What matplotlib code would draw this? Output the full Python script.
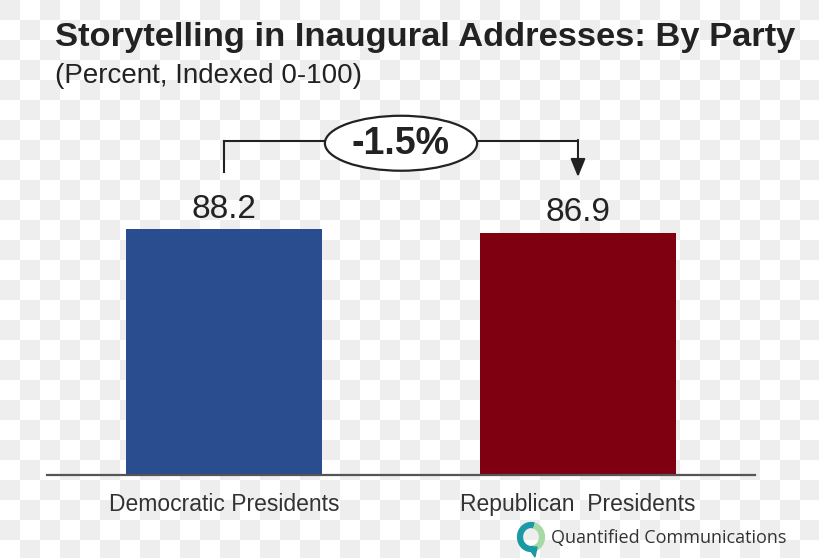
import numpy as np
import matplotlib
matplotlib.use("Agg")
import matplotlib.pyplot as plt
from matplotlib.patches import Ellipse, Arc, Polygon

# ---- data ----
categories = ["Democratic Presidents", "Republican  Presidents"]
values = [88.2, 86.9]
bar_colors = ["#2A4D8F", "#7F0011"]
title = "Storytelling in Inaugural Addresses: By Party"
subtitle = "(Percent, Indexed 0-100)"
brand = "Quantified Communications"

FONT = "Liberation Sans"
W, H = 820, 558
fig = plt.figure(figsize=(W / 100, H / 100), dpi=100)

# background checkerboard (transparent-image look)
bg = fig.add_axes([0, 0, 1, 1], zorder=-10)
nx, ny = W // 20 + 1, H // 20 + 1
jj, ii = np.meshgrid(np.arange(nx), np.arange(ny))
check = np.where((ii + jj) % 2 == 0, 0.933, 1.0)
bg.imshow(check, cmap="gray", vmin=0, vmax=1, extent=(0, nx * 20, ny * 20, 0),
          interpolation="nearest", aspect="auto")
bg.set_xlim(0, W)
bg.set_ylim(H, 0)
bg.axis("off")

# main axes
ax = fig.add_axes([47 / W, 1 - 475 / H, (755 - 47) / W, 375 / H])
ax.set_facecolor("none")
x = np.arange(len(values))
ax.bar(x, values, width=0.554, color=bar_colors, zorder=2)
ax.set_xlim(-0.5, 1.5)
ax.set_ylim(0, 134.4)
for s in ["top", "right", "left"]:
    ax.spines[s].set_visible(False)
ax.spines["bottom"].set_color("#555555")
ax.spines["bottom"].set_linewidth(1.6)
ax.set_yticks([])
ax.set_xticks(x)
ax.set_xticklabels(categories, fontsize=16.5, family=FONT, color="#333333")
ax.tick_params(axis="x", length=0, pad=13)

for xi, v in zip(x, values):
    ax.text(xi, v + 4, f"{v:.1f}", ha="center", va="baseline", fontsize=24,
            family=FONT, color="#222222")

# change annotation
change = (values[1] - values[0]) / values[0] * 100
ybr = max(values) + 31.6
ax.plot([x[0], x[0]], [max(values) + 20.5, ybr], color="#222222", lw=1.5, zorder=3)
ax.plot([x[0], x[1]], [ybr, ybr], color="#222222", lw=1.5, zorder=3)
ax.annotate("", xy=(x[1], max(values) + 18.6), xytext=(x[1], ybr + 0.3),
            arrowprops=dict(arrowstyle="-|>,head_length=1.1,head_width=0.45",
                            color="#222222", lw=1.5, shrinkA=0, shrinkB=0), zorder=3)
ax.add_patch(Ellipse(((x[0] + x[1]) / 2, ybr - 0.9), 0.43, 19.7, facecolor="white",
                     edgecolor="#222222", lw=1.6, zorder=4))
ax.text((x[0] + x[1]) / 2, ybr - 1.2, f"{change:.1f}%", ha="center", va="center",
        fontsize=27, fontweight="bold", family=FONT, color="#222222", zorder=5)

# titles
fig.text(55 / W, 1 - 46 / H, title, fontsize=24.8, fontweight="bold", family=FONT,
         color="#222222", ha="left", va="baseline")
fig.text(55 / W, 1 - 83 / H, subtitle, fontsize=20, family=FONT,
         color="#222222", ha="left", va="baseline")

# brand logo
ov = fig.add_axes([0, 0, 1, 1], zorder=10)
ov.set_xlim(0, W)
ov.set_ylim(H, 0)
ov.axis("off")
ov.add_patch(Arc((531, 537), 22, 24, theta1=75, theta2=285, color="#1B9AA6", lw=4.5))
ov.add_patch(Arc((531, 537), 22, 24, theta1=-75, theta2=75, color="#A6D9A3", lw=4.5))
ov.add_patch(Polygon([[528, 547], [537, 547], [535, 557]], closed=True, color="#1B9AA6"))
ov.text(551, 538, brand, fontsize=13, family="Open Sans", color="#333333",
        ha="left", va="center")

fig.savefig("out.png", dpi=100)
